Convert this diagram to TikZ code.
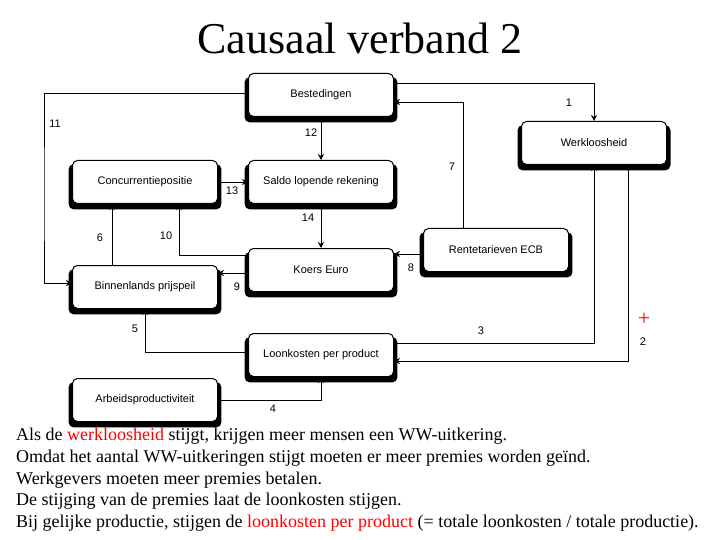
\documentclass[tikz,border=0pt]{standalone}
\usepackage{fontspec}
\setmainfont{Liberation Serif}
\newfontfamily\boxfont{Liberation Sans}
\usetikzlibrary{shadows,arrows.meta}

\tikzset{
  factor/.style={draw=black, fill=white, rounded corners=5pt, line width=1pt,
    minimum width=145pt, minimum height=43pt, font=\boxfont\fontsize{11}{13}\selectfont,
    general shadow={fill=black, shadow scale=1.055, shadow yshift=-4.5pt}},
  num/.style={font=\boxfont\fontsize{11}{13}\selectfont},
  link/.style={->, line width=0.7pt}
}

\begin{document}
\begin{tikzpicture}[x=1pt, y=-1pt, >={Stealth[length=6pt,width=6pt]}]
  \useasboundingbox (0,0) rectangle (720,540);

  \node (title) at (360,38) {\fontsize{44}{48}\selectfont Causaal verband 2};

  % factoren
  \node[factor] (best) at (321,95) {Bestedingen};
  \node[factor] (werk) at (594,143) {Werkloosheid};
  \node[factor] (conc) at (145,182) {Concurrentiepositie};
  \node[factor] (saldo) at (321,182) {Saldo lopende rekening};
  \node[factor] (rente) at (496,250) {Rentetarieven ECB};
  \node[factor] (koers) at (321,270) {Koers Euro};
  \node[factor] (binnen) at (145,287) {Binnenlands prijspeil};
  \node[factor] (loon) at (321,355) {Loonkosten per product};
  \node[factor] (arbeid) at (145,400) {Arbeidsproductiviteit};

  \coordinate (left11) at (44,200);

  % verbanden
  \draw[link] ([yshift=12pt]best.east) -| (werk.north);
  \draw[link] ([xshift=34pt]werk.south) |- ([yshift=-6pt]loon.east);
  \draw[link] ([yshift=12pt]loon.east) -| (werk.south);
  \draw[link] (arbeid.east) -| (loon.south);
  \draw[link] ([yshift=3pt]loon.west) -| (binnen.south);
  \draw[link] ([xshift=-33pt]binnen.north) -- ([xshift=-33pt]conc.south);
  \draw[link] ([xshift=-33pt]rente.north) |- ([yshift=-7pt]best.east);
  \draw[link] ([yshift=-4pt]rente.west) -- ([yshift=-4pt]rente.west -| koers.east);
  \draw[link] ([yshift=-3pt]koers.west) -- ([yshift=-3pt]koers.west -| binnen.east);
  \draw[link] ([yshift=15pt]koers.west) -| ([xshift=34pt]conc.south);
  \draw[link] ([yshift=2pt]best.west) -| (left11) |- ([yshift=4pt]binnen.west);
  \draw[link] (best) -- (saldo);
  \draw[link] (conc) -- (saldo);
  \draw[link] (saldo) -- (koers);

  % nummers
  \node[num] (n1) at (569,103) {1};
  \node[num] (n2) at (643,342) {2};
  \node[num] (n3) at (481,331) {3};
  \node[num] (n4) at (273,409) {4};
  \node[num] (n5) at (135,329) {5};
  \node[num] (n6) at (100,238) {6};
  \node[num] (n7) at (452,167) {7};
  \node[num] (n8) at (411,268) {8};
  \node[num] (n9) at (237,287) {9};
  \node[num] (n10) at (166,236) {10};
  \node[num] (n11) at (55,124) {11};
  \node[num] (n12) at (311,133) {12};
  \node[num] (n13) at (232,191) {13};
  \node[num] (n14) at (308,218) {14};
  \node[text=red] (plus) at (644,319) {\fontsize{22}{24}\selectfont +};

  % uitleg
  \node[anchor=north west, align=left, inner sep=0pt, font=\fontsize{18}{21.7}\selectfont] (uitleg) at (16,428)
    {Als de \textcolor{red}{werkloosheid} stijgt, krijgen meer mensen een WW-uitkering.\\
     Omdat het aantal WW-uitkeringen stijgt moeten er meer premies worden geïnd.\\
     Werkgevers moeten meer premies betalen.\\
     De stijging van de premies laat de loonkosten stijgen.\\
     Bij gelijke productie, stijgen de \textcolor{red}{loonkosten per product} (= totale loonkosten / totale productie).};
\end{tikzpicture}
\end{document}
